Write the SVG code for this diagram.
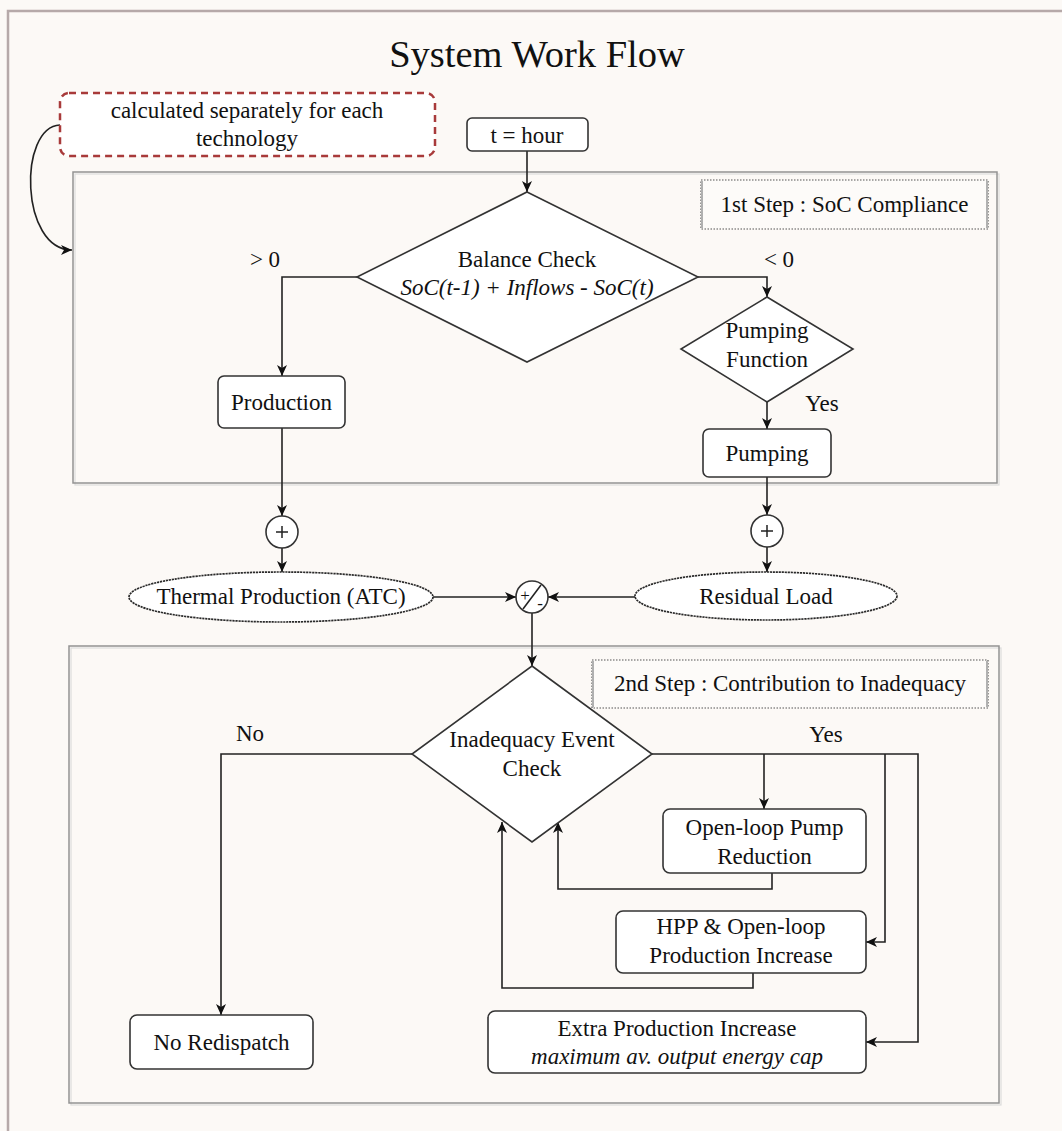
<svg xmlns="http://www.w3.org/2000/svg" width="1062" height="1131" viewBox="0 0 1062 1131">
  <style>
    text { font-family: "Liberation Serif", "Times New Roman", serif; fill: #111; }
    .lbl { font-size: 23px; text-anchor: middle; }
    .it { font-style: italic; }
    .box { fill: #fff; stroke: #333; stroke-width: 1.6; }
    .panel { fill: none; stroke: #939393; stroke-width: 1.5; }
    .shade { fill: none; stroke: #dcdcdc; stroke-width: 1.2; }
    .tag { fill: none; stroke: #555; stroke-width: 1.2; stroke-dasharray: 1.5 1.5; }
    .ell { fill: #fff; stroke: #2a2a2a; stroke-width: 1.7; stroke-dasharray: 2.2 0.8; }
    .wire { fill: none; stroke: #222; stroke-width: 1.6; }
    .arr { marker-end: url(#ah); }
  </style>
  <defs>
    <marker id="ah" markerUnits="userSpaceOnUse" markerWidth="12" markerHeight="10" refX="11" refY="5" orient="auto">
      <path d="M0,0 L11,5 L0,10 L3,5 z" fill="#111"/>
    </marker>
  </defs>

  <!-- page background and frame -->
  <rect x="0" y="0" width="1062" height="1131" fill="#fcf9f6"/>
  <path d="M8,1131 V11 H1062" fill="none" stroke="#b6a9a9" stroke-width="2.5"/>

  <text x="537" y="67" font-size="38.5" text-anchor="middle">System Work Flow</text>

  <!-- step panels -->
  <g id="panel1">
    <rect class="shade" x="75" y="174" width="924" height="311"/>
    <rect class="panel" x="73" y="172" width="924" height="311"/>
  </g>
  <g id="panel2">
    <rect class="shade" x="71" y="648" width="930" height="457"/>
    <rect class="panel" x="69" y="646" width="930" height="457"/>
  </g>

  <g id="step1-tag">
    <rect x="701" y="180" width="287" height="49" fill="#fdfbf9" stroke="none"/>
    <rect class="tag" x="701" y="180" width="287" height="49"/>
    <path d="M702,181 V228 M987,181 V228" stroke="#b0b0b0" stroke-width="2"/>
    <text class="lbl" x="844.5" y="212">1st Step : SoC Compliance</text>
  </g>
  <g id="step2-tag">
    <rect x="592" y="660" width="396" height="48" fill="#fdfbf9" stroke="none"/>
    <rect class="tag" x="592" y="660" width="396" height="48"/>
    <path d="M593,661 V707 M987,661 V707" stroke="#b0b0b0" stroke-width="2"/>
    <text class="lbl" x="790" y="691">2nd Step : Contribution to Inadequacy</text>
  </g>

  <!-- connectors -->
  <g id="connectors">
    <path class="wire arr" d="M60,125 C18,127 20,250 72,250"/>
    <path class="wire arr" d="M527,151 V192"/>
    <path class="wire arr" d="M357,277 H282 V376"/>
    <path class="wire arr" d="M698,277 H767 V297"/>
    <path class="wire arr" d="M767,402 V429"/>
    <path class="wire arr" d="M282,428 V516"/>
    <path class="wire arr" d="M282,548 V572"/>
    <path class="wire arr" d="M767,477 V515"/>
    <path class="wire arr" d="M767,547 V572"/>
    <path class="wire arr" d="M433,597 H516"/>
    <path class="wire arr" d="M635,597 H548"/>
    <path class="wire arr" d="M532,613 V666"/>
    <path class="wire arr" d="M412,754 H221 V1015"/>
    <path class="wire arr" d="M652,754 H918 V1042 H866"/>
    <path class="wire arr" d="M764,754 V809"/>
    <path class="wire arr" d="M885,754 V942 H866"/>
    <path class="wire arr" d="M772,873 V889 H558 V822"/>
    <path class="wire arr" d="M753,973 V988 H502 V822"/>
  </g>

  <!-- edge labels -->
  <text class="lbl" x="265" y="267">&gt; 0</text>
  <text class="lbl" x="779" y="267">&lt; 0</text>
  <text class="lbl" x="822" y="411">Yes</text>
  <text class="lbl" x="250" y="741">No</text>
  <text class="lbl" x="826" y="742">Yes</text>

  <!-- nodes -->
  <g id="note">
    <rect x="60" y="93" width="375" height="63" rx="9" fill="#fff" stroke="#a83a3a" stroke-width="2.5" stroke-dasharray="7 5"/>
    <text class="lbl" x="247" y="118">calculated separately for each</text>
    <text class="lbl" x="247" y="146">technology</text>
  </g>

  <g id="t-hour">
    <rect class="box" x="467" y="118" width="121" height="33" rx="5"/>
    <text class="lbl" x="527" y="143">t = hour</text>
  </g>

  <g id="balance-check">
    <polygon class="box" points="527,192 698,277 527,362 357,277"/>
    <text class="lbl" x="527" y="267">Balance Check</text>
    <text class="lbl it" x="527" y="295">SoC(t-1) + Inflows - SoC(t)</text>
  </g>

  <g id="pumping-function">
    <polygon class="box" points="767,297 853,349 767,402 681,349"/>
    <text class="lbl" x="767" y="338">Pumping</text>
    <text class="lbl" x="767" y="367">Function</text>
  </g>

  <g id="production">
    <rect class="box" x="218" y="376" width="127" height="52" rx="6"/>
    <text class="lbl" x="281.5" y="410">Production</text>
  </g>

  <g id="pumping">
    <rect class="box" x="703" y="429" width="128" height="48" rx="6"/>
    <text class="lbl" x="767" y="461">Pumping</text>
  </g>

  <g id="sum-left">
    <circle class="box" cx="282" cy="532" r="16"/>
    <path d="M276,532 H288 M282,526 V538" stroke="#222" stroke-width="1.5"/>
  </g>
  <g id="sum-right">
    <circle class="box" cx="767" cy="531" r="16"/>
    <path d="M761,531 H773 M767,525 V537" stroke="#222" stroke-width="1.5"/>
  </g>

  <g id="thermal-production">
    <ellipse class="ell" cx="281" cy="597" rx="152" ry="25"/>
    <text class="lbl" x="281" y="604">Thermal Production (ATC)</text>
  </g>

  <g id="residual-load">
    <ellipse class="ell" cx="766" cy="596" rx="131" ry="24"/>
    <text class="lbl" x="766" y="604">Residual Load</text>
  </g>

  <g id="difference">
    <circle class="box" cx="532" cy="597" r="16"/>
    <path d="M523,609 L541,585" stroke="#222" stroke-width="1.5"/>
    <text x="525" y="601" font-size="17" text-anchor="middle">+</text>
    <text x="540" y="609" font-size="17" text-anchor="middle">-</text>
  </g>

  <g id="inadequacy-check">
    <polygon class="box" points="532,666 652,754 532,842 412,754"/>
    <text class="lbl" x="532" y="747">Inadequacy Event</text>
    <text class="lbl" x="532" y="776">Check</text>
  </g>

  <g id="pump-reduction">
    <rect class="box" x="663" y="809" width="203" height="64" rx="7"/>
    <text class="lbl" x="764.5" y="835">Open-loop Pump</text>
    <text class="lbl" x="764.5" y="864">Reduction</text>
  </g>

  <g id="production-increase">
    <rect class="box" x="616" y="911" width="250" height="62" rx="7"/>
    <text class="lbl" x="741" y="934">HPP &amp; Open-loop</text>
    <text class="lbl" x="741" y="963">Production Increase</text>
  </g>

  <g id="extra-production">
    <rect class="box" x="488" y="1011" width="378" height="62" rx="7"/>
    <text class="lbl" x="677" y="1036">Extra Production Increase</text>
    <text class="lbl it" x="677" y="1064">maximum av. output energy cap</text>
  </g>

  <g id="no-redispatch">
    <rect class="box" x="130" y="1015" width="183" height="54" rx="7"/>
    <text class="lbl" x="221.5" y="1050">No Redispatch</text>
  </g>
</svg>
